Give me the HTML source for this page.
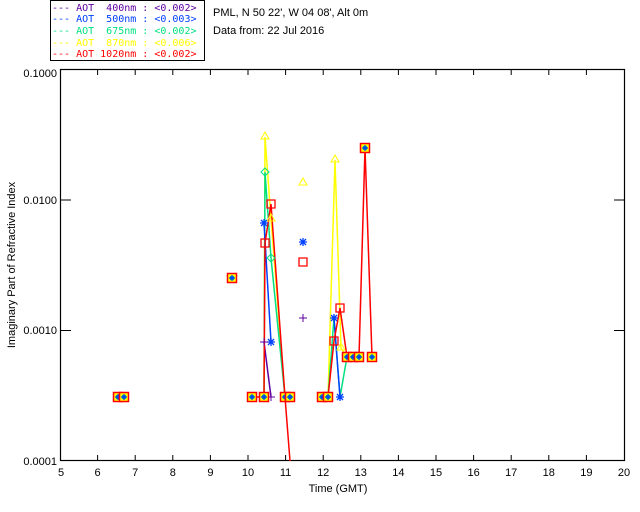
<!DOCTYPE html>
<html><head><style>body{margin:0;background:#fff}svg{display:block}text{font-family:"Liberation Sans",sans-serif;font-size:11px}.lg{white-space:pre;font-family:"DejaVu Sans Mono","Liberation Mono",monospace;font-size:10px}</style></head>
<body>
<svg width="640" height="512" xmlns="http://www.w3.org/2000/svg">
<defs>
<g id="c"><rect x="-4.5" y="-4.5" width="9" height="9" fill="#ff0" stroke="#f00" stroke-width="1.5"/><rect x="-2" y="-2" width="4" height="4" fill="#0a8"/><path d="M-3 0H3M0-3V3" stroke="#03f" stroke-width="1.2"/></g>
</defs>
<rect x="50.5" y="0.5" width="154" height="60" fill="#fff" stroke="#000"/>
<text class="lg" x="52" y="11" fill="#6000a0">--- AOT  400nm : &lt;0.002&gt;</text>
<text class="lg" x="52" y="22" fill="#0040ff">--- AOT  500nm : &lt;0.003&gt;</text>
<text class="lg" x="52" y="34" fill="#00e080">--- AOT  675nm : &lt;0.002&gt;</text>
<text class="lg" x="52" y="46" fill="#ffff00">--- AOT  870nm : &lt;0.006&gt;</text>
<text class="lg" x="52" y="57" fill="#ff0000">--- AOT 1020nm : &lt;0.002&gt;</text>
<text x="213" y="16">PML, N 50 22', W 04 08', Alt 0m</text>
<text x="213" y="34">Data from: 22 Jul 2016</text>
<rect x="60.5" y="69.5" width="564" height="391" fill="none" stroke="#000" stroke-width="1.2"/>
<g stroke="#000">
<path d="M97.6 461v-6M135.2 461v-6M172.8 461v-6M210.4 461v-6M248 461v-6M285.6 461v-6M323.2 461v-6M360.8 461v-6M398.4 461v-6M436 461v-6M473.6 461v-6M511.2 461v-6M548.8 461v-6M586.4 461v-6"/>
<path d="M97.6 69v6M135.2 69v6M172.8 69v6M210.4 69v6M248 69v6M285.6 69v6M323.2 69v6M360.8 69v6M398.4 69v6M436 69v6M473.6 69v6M511.2 69v6M548.8 69v6M586.4 69v6"/>
<path d="M61 200h10M61 330.5h10M614 200h10M614 330.5h10"/>
</g>
<g text-anchor="middle">
<text x="61" y="476">5</text><text x="97.6" y="476">6</text><text x="135.2" y="476">7</text><text x="172.8" y="476">8</text><text x="210.4" y="476">9</text><text x="248" y="476">10</text><text x="285.6" y="476">11</text><text x="323.2" y="476">12</text><text x="360.8" y="476">13</text><text x="398.4" y="476">14</text><text x="436" y="476">15</text><text x="473.6" y="476">16</text><text x="511.2" y="476">17</text><text x="548.8" y="476">18</text><text x="586.4" y="476">19</text><text x="624" y="476">20</text>
<text x="338" y="492">Time (GMT)</text>
</g>
<g text-anchor="end">
<text x="57" y="77">0.1000</text><text x="57" y="204">0.0100</text><text x="57" y="334">0.0010</text><text x="57" y="465">0.0001</text>
</g>
<text transform="translate(15,265) rotate(-90)" text-anchor="middle" font-size="10">Imaginary Part of Refractive Index</text>
<g fill="none" stroke-width="1.5">
<polyline stroke="#ff0" points="264,397 265,137 271,219 285,397"/>
<polyline stroke="#ff0" points="328,397 335,160 341,348 347,357"/>
<polyline stroke="#00e080" points="264,397 265,172 271,258 285,397"/>
<polyline stroke="#00e080" points="328,397 334,318 340,397 347,357"/>
<polyline stroke="#0040ff" points="264,223 271,342"/>
<polyline stroke="#0040ff" points="334,318 340,397"/>
<polyline stroke="#6000a0" points="264,342 271,397"/>
<polyline stroke="#f00" points="252,397 264,397 265,243 271,204 285,397 290,461"/>
<polyline stroke="#f00" points="322,397 328,397 334,341 340,308 347,357 353,357 359,357 365,148 372,357"/>
</g>
<g fill="none">
<path d="M265 132l4 7h-8zM303 178l4 7h-8zM335 155l4 7h-8zM341 343l4 7h-8zM271 214l4 7h-8zM290 392l4 7h-8z" stroke="#ff0"/>
<path d="M265 168l4 4-4 4-4-4zM271 254l4 4-4 4-4-4z" stroke="#00e080"/>
<path d="M260 223h8M264 219v8M261 220l6 6M267 220l-6 6M267 342h8M271 338v8M268 339l6 6M274 339l-6 6M299 242h8M303 238v8M300 239l6 6M306 239l-6 6M330 318h8M334 314v8M331 315l6 6M337 315l-6 6M336 397h8M340 393v8M337 394l6 6M343 394l-6 6" stroke="#0040ff" stroke-width="1.3"/>
<path d="M260 342h8M264 338v8M267 397h8M271 393v8M299 318h8M303 314v8" stroke="#6000a0"/>
<path d="M261 239h8v8h-8zM267 200h8v8h-8zM299 258h8v8h-8zM330 337h8v8h-8zM336 304h8v8h-8z" stroke="#f00" stroke-width="1.3"/>
</g>
<use href="#c" x="118" y="397"/><use href="#c" x="124" y="397"/><use href="#c" x="232" y="278"/>
<use href="#c" x="252" y="397"/><use href="#c" x="264" y="397"/><use href="#c" x="285" y="397"/><use href="#c" x="290" y="397"/>
<use href="#c" x="322" y="397"/><use href="#c" x="328" y="397"/>
<use href="#c" x="347" y="357"/><use href="#c" x="353" y="357"/><use href="#c" x="359" y="357"/><use href="#c" x="372" y="357"/><use href="#c" x="365" y="148"/>
</svg>
</body></html>
